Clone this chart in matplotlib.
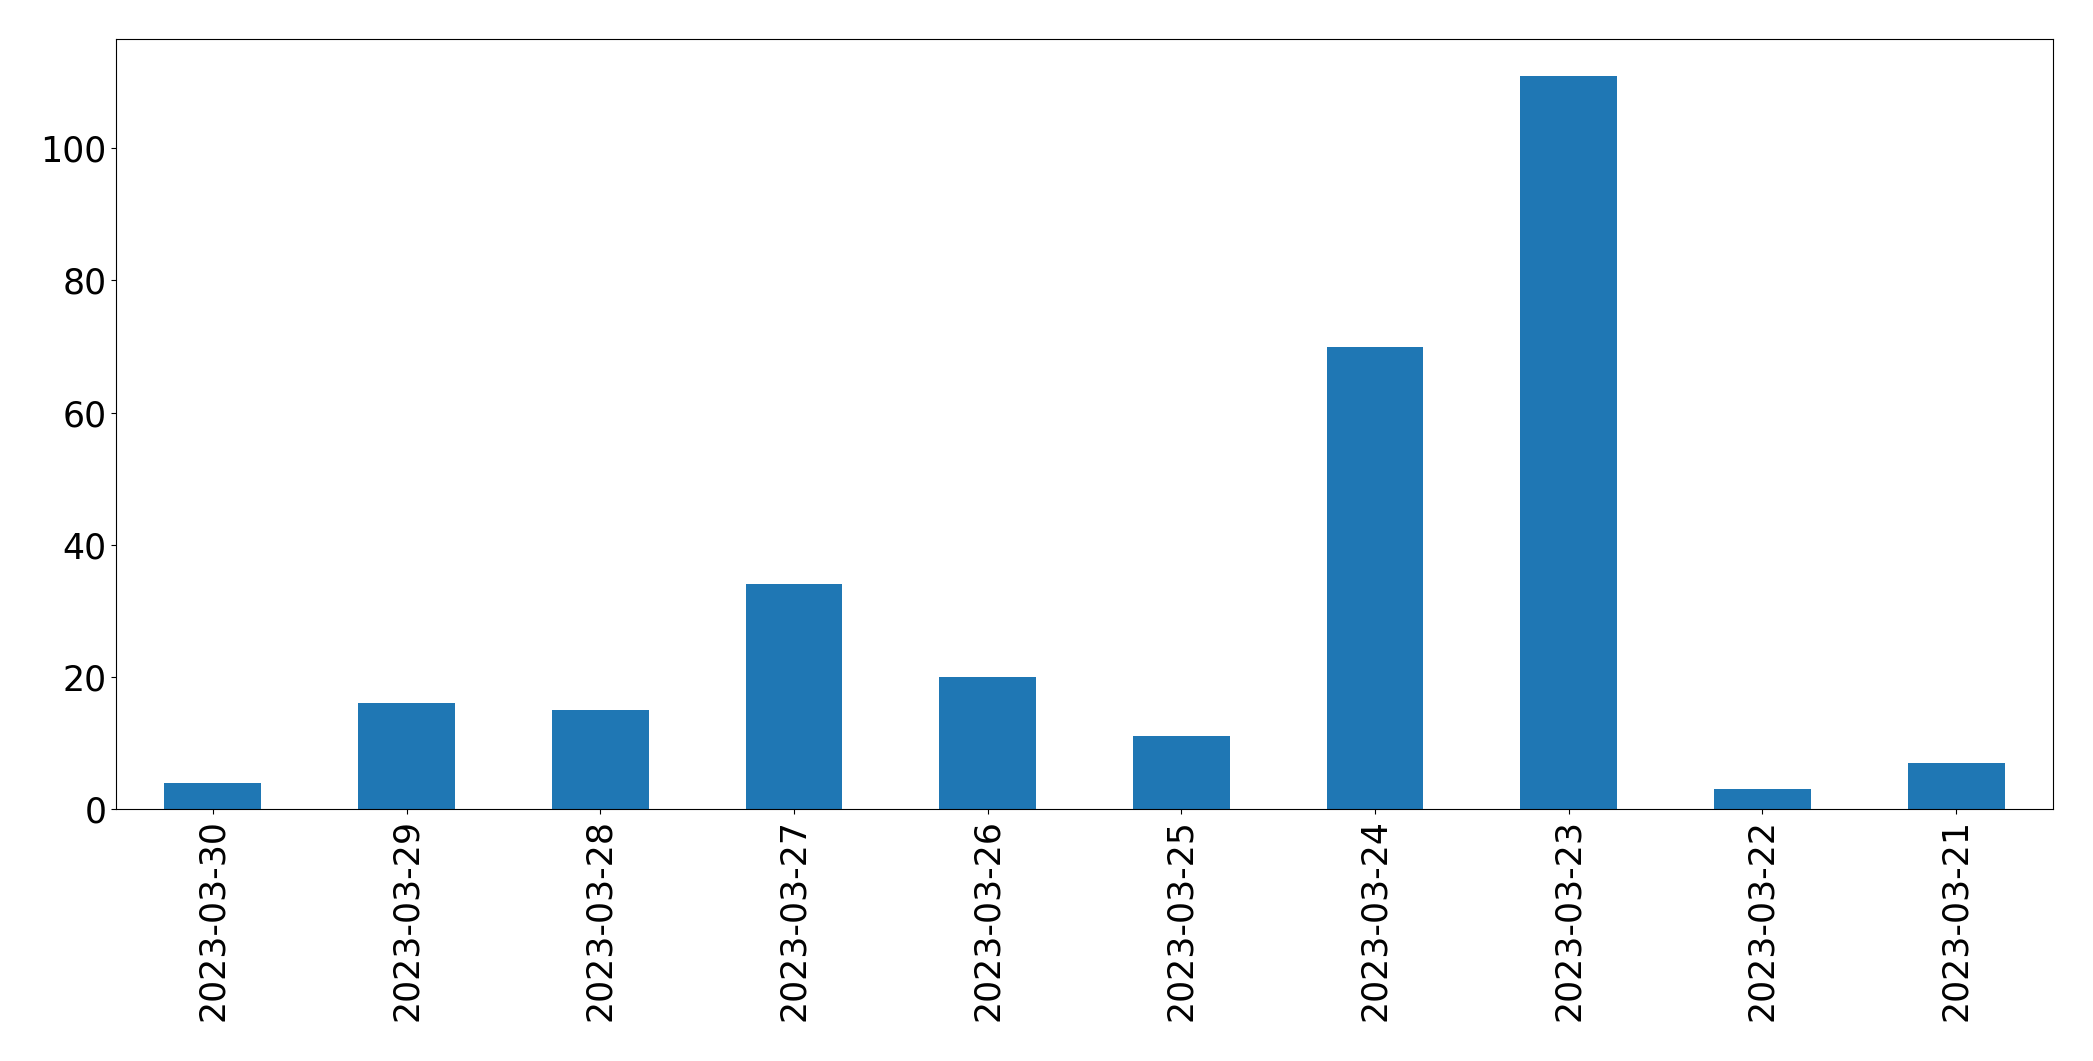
import matplotlib
matplotlib.use("Agg")
import matplotlib.pyplot as plt
import pandas as pd

dates = ["2023-03-30", "2023-03-29", "2023-03-28", "2023-03-27", "2023-03-26",
         "2023-03-25", "2023-03-24", "2023-03-23", "2023-03-22", "2023-03-21"]
counts = [4, 16, 15, 34, 20, 11, 70, 111, 3, 7]

s = pd.Series(counts, index=dates)

fig = plt.figure(figsize=(20.93, 10.61), dpi=100)
ax = fig.add_axes([116 / 2093, 1 - 809 / 1061, (2053 - 116) / 2093, (809 - 39) / 1061])
s.plot(kind="bar", ax=ax, color="#1f77b4")
ax.tick_params(axis="both", labelsize=25)
fig.savefig("out.png", dpi=100)
